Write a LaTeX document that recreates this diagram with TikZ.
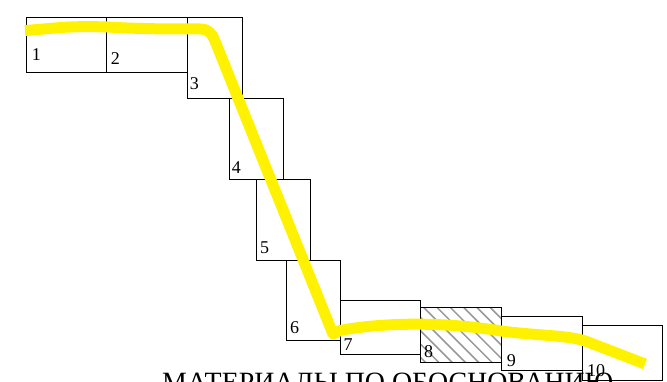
\documentclass[tikz,border=0pt]{standalone}
\usepackage{fontspec}
\setmainfont{Liberation Serif}
\begin{document}
\begin{tikzpicture}[x=1pt,y=-1pt,
  cell/.style={draw=black, line width=0.8pt, anchor=north west, inner sep=0pt, outer sep=0pt},
  num/.style={anchor=base west, inner sep=0pt, font=\fontsize{18}{18}\selectfont},
  trace/.style={draw=yellow, line width=11pt, line join=round},
  hatchline/.style={draw=black!40, line width=1.5pt}]
\clip (0,0) rectangle (667,382);
\fill[white] (0,0) rectangle (667,382);
% hatching of cell 8
\begin{scope}
\clip (420.3,307.7) rectangle (501.3,362);
\foreach \i in {-5,...,7} \draw[hatchline] ({424+13.3*\i},307.7) -- ++(60,60);
\end{scope}
% cells
\node[cell, minimum width=80pt, minimum height=54.6pt] (b1) at (26.7,17.7) {};
\node[cell, minimum width=81pt, minimum height=54.6pt] (b2) at (106.7,17.7) {};
\node[cell, minimum width=54.6pt, minimum height=80.6pt] (b3) at (187.7,17.7) {};
\node[cell, minimum width=54.2pt, minimum height=81pt] (b4) at (229.3,98.3) {};
\node[cell, minimum width=54.3pt, minimum height=81pt] (b5) at (256,179.3) {};
\node[cell, minimum width=54.3pt, minimum height=80.4pt] (b6) at (286,260.3) {};
\node[cell, minimum width=80pt, minimum height=54.3pt] (b7) at (340.3,300) {};
\node[cell, minimum width=81pt, minimum height=54.3pt] (b8) at (420.3,307.7) {};
\node[cell, minimum width=81pt, minimum height=54pt] (b9) at (501.3,316) {};
\node[cell, minimum width=80pt, minimum height=54.3pt] (b10) at (582.3,325.7) {};
% labels
\node[num] (l1) at (31.7,61) {1};
\node[num] (l2) at (110.7,65) {2};
\node[num] (l3) at (189.7,90) {3};
\node[num] (l4) at (231.7,173.3) {4};
\node[num] (l5) at (260,253.3) {5};
\node[num] (l6) at (290,333) {6};
\node[num] (l7) at (343.3,350) {7};
\node[num] (l8) at (424,357) {8};
\node[num] (l9) at (506.7,366) {9};
\node[num] (l10) at (587,376) {10};
% yellow trace
\draw[trace] (25,30.5) .. controls (50,29) and (65,25.5) .. (107,27)
  .. controls (140,29) and (170,29) .. (200,29)
  .. controls (208,29) and (212,33) .. (215,41)
  -- (333,334)
  -- (340,330.5) .. controls (380,323) and (440,321) .. (501,331)
  .. controls (540,336) and (570,335) .. (588,342)
  -- (645,364);
% title
\node[anchor=base west, inner sep=0pt, font=\fontsize{27.9}{28}\selectfont] (title) at (162,391) {МАТЕРИАЛЫ ПО ОБОСНОВАНИЮ};
\end{tikzpicture}
\end{document}
